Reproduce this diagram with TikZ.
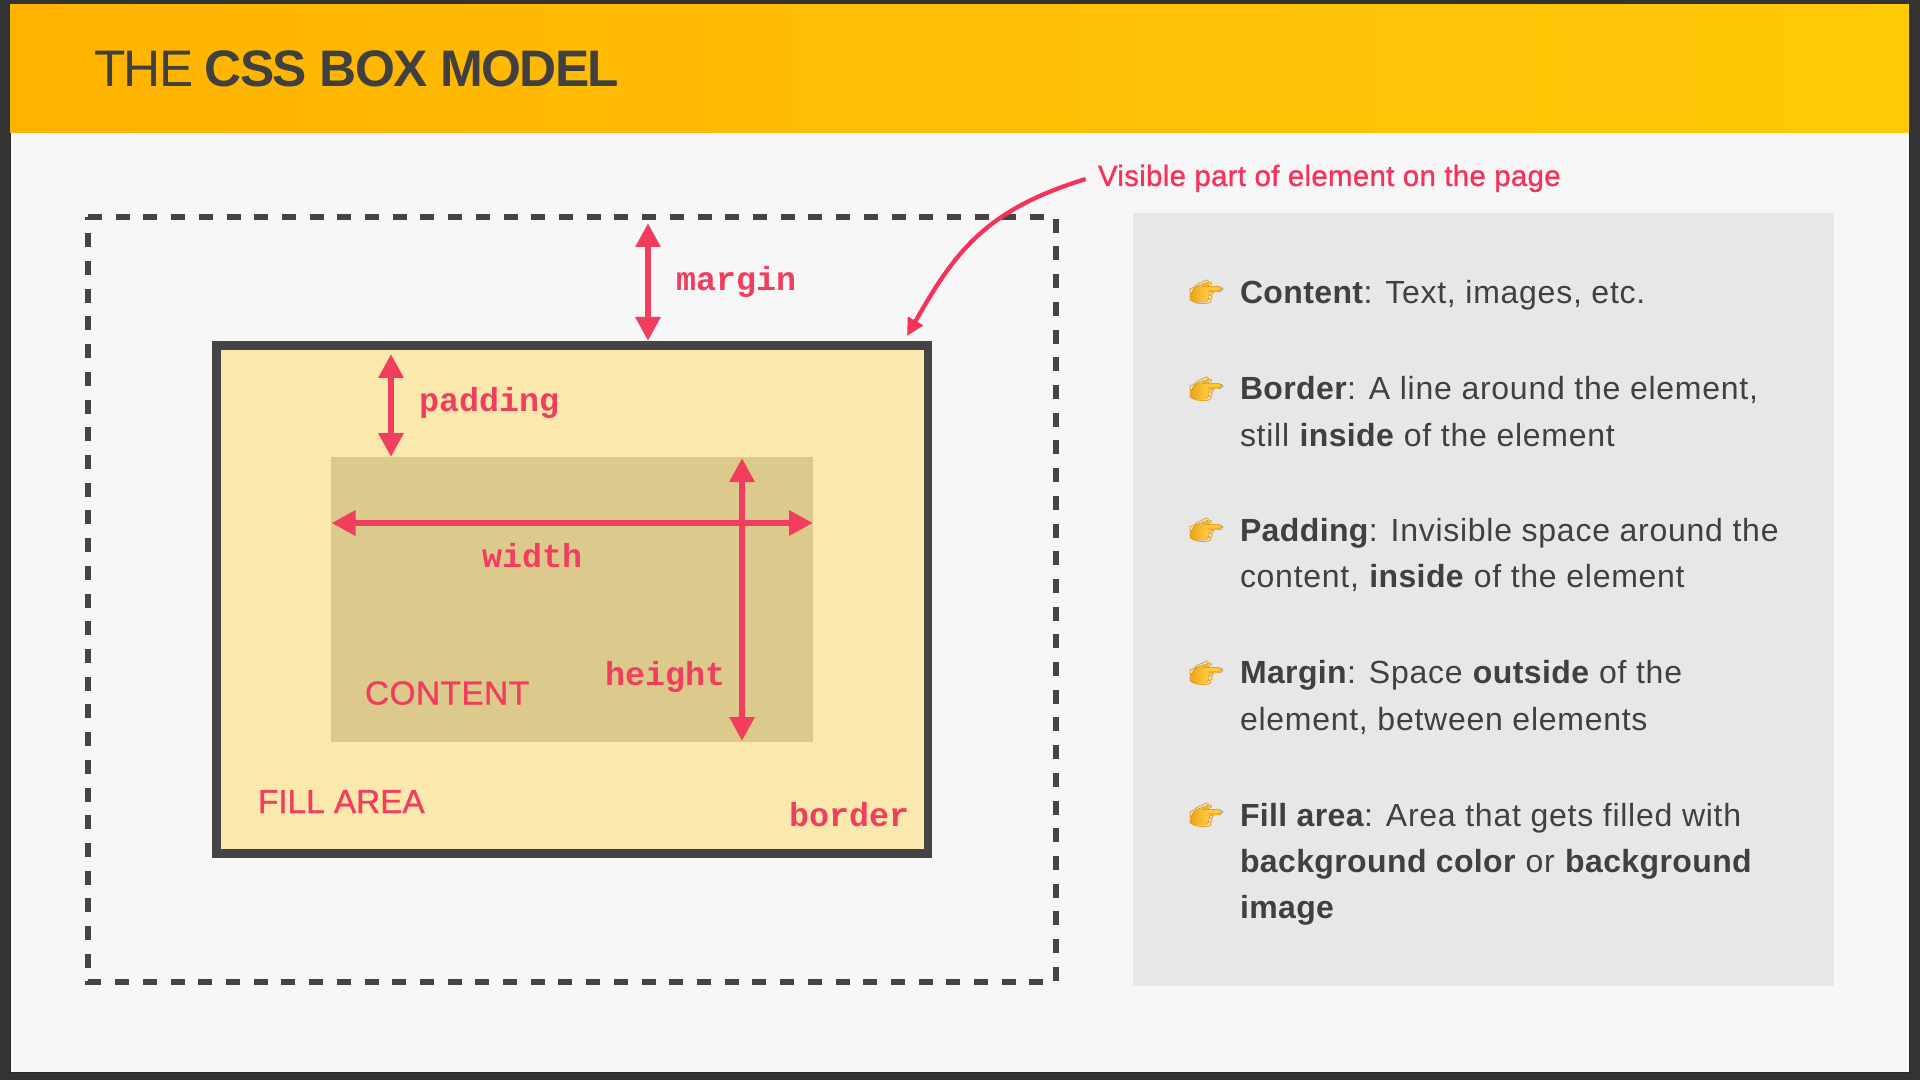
\documentclass[tikz,border=0pt]{standalone}
\usepackage{fontspec}
\usetikzlibrary{arrows.meta}
\setmainfont{Liberation Sans}[LetterSpace=2.3,BoldFeatures={LetterSpace=1.2}]
\newfontfamily\titlefont{Liberation Sans}[LetterSpace=-3.1]
\newfontfamily\labelfont{Liberation Sans}[FakeBold=1]
\newfontfamily\visfont{Liberation Sans}[FakeBold=1,LetterSpace=1.2]
\newfontfamily\contfont{Liberation Sans}[FakeBold=1,LetterSpace=1.5]
\newfontfamily\monofont{Liberation Mono}
\newfontfamily\emojifont{Noto Emoji}
\definecolor{framec}{HTML}{333333}
\definecolor{slidec}{HTML}{F7F7F7}
\definecolor{inkc}{HTML}{404040}
\definecolor{boxc}{HTML}{444444}
\definecolor{redc}{HTML}{F23E5E}
\definecolor{pinkc}{HTML}{F5325A}
\definecolor{fillc}{HTML}{FAE8AC}
\definecolor{contentc}{HTML}{DCCA8C}
\definecolor{panelc}{HTML}{E7E7E7}
\definecolor{handc}{HTML}{FFC83D}
\definecolor{handd}{HTML}{EFA31C}
\tikzset{
  every node/.style={inner sep=0pt,outer sep=0pt},
  titletext/.style={anchor=base west,text=inkc,font=\titlefont\fontsize{38.5pt}{46pt}\selectfont},
  sans/.style={anchor=base west,text=redc,font=\labelfont\fontsize{25pt}{30pt}\selectfont},
  monolabel/.style={anchor=base west,text=redc,font=\monofont\bfseries\fontsize{25pt}{30pt}\selectfont},
  itemtext/.style={anchor=base west,text=inkc,font=\fontsize{24pt}{34.5pt}\selectfont},
  dblarrow/.style={draw=redc,line width=4.5pt,{Triangle[length=18pt,width=18pt]}-{Triangle[length=18pt,width=18pt]}},
  callout/.style={draw=pinkc,line width=3.2pt,-{Triangle[length=13pt,width=12.5pt]}},
  hand/.pic={
    \fill[rounded corners=1.6pt,left color=handd,right color=handc,middle color=handc]
      (0,13.3)--(4.3,5.7)--(19.3,0)--(22,2.7)--(14.3,5)--(31,5.3)--(32.3,7.7)--(31,10)--(18.3,11)--(18.7,16.7)--(16,20.7)--(4.3,20.7)--(0,18.3)--cycle;
    \node[anchor=base west,text=handd,font=\emojifont\fontsize{20pt}{20pt}\selectfont] (-glyph) at (-2,20) {^^^^^^01f449};
  }
}
\begin{document}
\begin{tikzpicture}[x=0.75pt,y=-0.75pt]
\useasboundingbox (0,0) rectangle (1920,1080);
\fill[framec] (0,0) rectangle (1920,1080);
\fill[slidec,draw=black!85,line width=0.75pt] (10,5) rectangle (1909,1072);
\shade[left color={rgb,255:red,255;green,179;blue,0},right color={rgb,255:red,255;green,202;blue,8}] (10,5) rectangle (1909,133);
\node[titletext] (title) at (94,87) {THE \textbf{CSS BOX MODEL}};

% margin box
\coordinate (mtl) at (88,217); \coordinate (mtr) at (1056,217);
\coordinate (mbr) at (1056,982); \coordinate (mbl) at (88,982);
\draw[boxc,line width=4.9pt,dash pattern=on 10.5pt off 10.28pt] (mtl)--(mtr)--(mbr)--(mbl)--cycle;

% border box
\fill[boxc] (212,341) rectangle (932,857.5);
\fill[fillc] (221,350.5) rectangle (923.5,849);
\coordinate (bordertop) at (648,341);
\coordinate (margintop) at (648,223);
\coordinate (borderhit) at (907,336);
\coordinate (filltop) at (391,354);

% content box
\fill[contentc] (331,457) rectangle (813,741.5);
\coordinate (conttop) at (391,457);
\coordinate (wl) at (331.5,523); \coordinate (wr) at (813,523);
\coordinate (ht) at (742,458); \coordinate (hb) at (742,741);

\draw[dblarrow] (margintop)--(bordertop);
\draw[dblarrow] (filltop)--(conttop);
\draw[dblarrow] (wl)--(wr);
\draw[dblarrow] (ht)--(hb);

\node[monolabel] (lmargin) at (676,291) {margin};
\node[monolabel] (lpadding) at (419,411.5) {padding};
\node[monolabel] (lwidth) at (482,567.5) {width};
\node[monolabel] (lheight) at (605,685) {height};
\node[monolabel] (lborder) at (789,826.5) {border};
\node[sans,font=\contfont\fontsize{25pt}{30pt}\selectfont] (lcontent) at (365,704.5) {CONTENT};
\node[sans] (lfill) at (258,813) {FILL AREA};

% callout
\node[anchor=base west,text=pinkc,font=\visfont\fontsize{22pt}{26pt}\selectfont] (vis) at (1098,186) {Visible part of element on the page};
\coordinate (cstart) at (1085.7,179);
\draw[callout] (cstart) .. controls (985,210) and (955,252) .. (borderhit);

% panel
\fill[panelc] (1133,213) rectangle (1834,986);
\foreach \y in {281.5,378.5,519.5,662.5,804.5} \pic at (1190.5,\y) {hand};
\node[itemtext] (i1) at (1240,303.5) {\textbf{Content}: Text, images, etc.};
\node[itemtext] (i2a) at (1240,400) {\textbf{Border}: A line around the element,};
\node[itemtext] (i2b) at (1240,446) {still \textbf{inside} of the element};
\node[itemtext] (i3a) at (1240,541) {\textbf{Padding}: Invisible space around the};
\node[itemtext] (i3b) at (1240,587.5) {content, \textbf{inside} of the element};
\node[itemtext] (i4a) at (1240,683.5) {\textbf{Margin}: Space \textbf{outside} of the};
\node[itemtext] (i4b) at (1240,730) {element, between elements};
\node[itemtext] (i5a) at (1240,826) {\textbf{Fill area}: Area that gets filled with};
\node[itemtext] (i5b) at (1240,872) {\textbf{background color} or \textbf{background}};
\node[itemtext] (i5c) at (1240,918) {\textbf{image}};
\end{tikzpicture}
\end{document}
